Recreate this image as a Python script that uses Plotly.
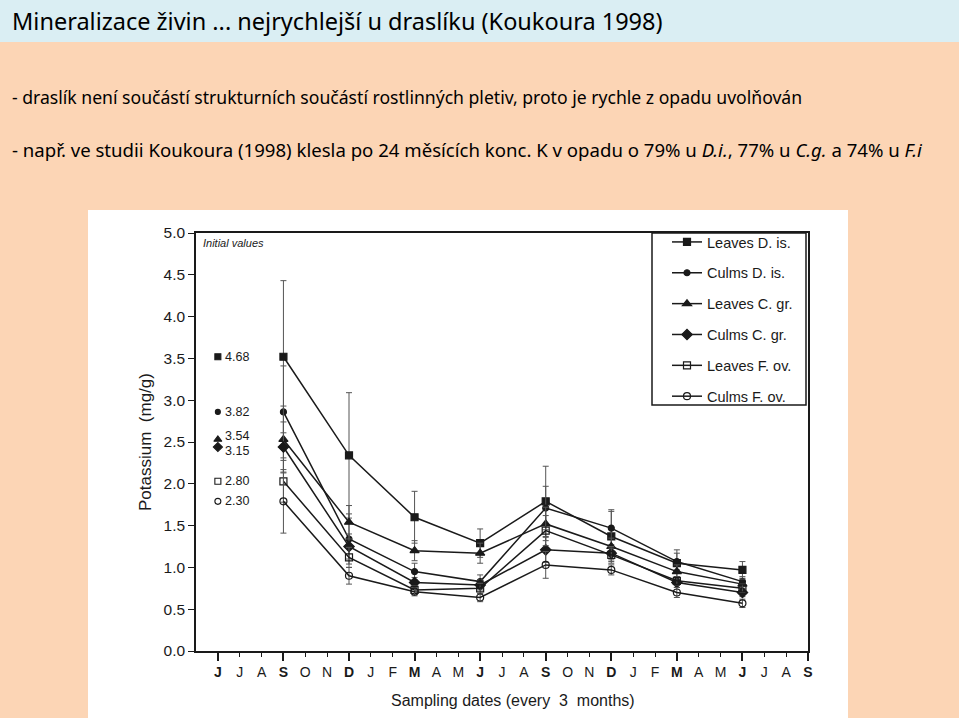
import plotly.graph_objects as go

W, H = 959, 718
# plot area in pixels
PL, PR, PT, PB = 196, 808, 233, 651

months = ["J", "J", "A", "S", "O", "N", "D", "J", "F", "M", "A", "M", "J", "J",
          "A", "S", "O", "N", "D", "J", "F", "M", "A", "M", "J", "J", "A", "S"]
bold_months = [0, 3, 6, 9, 12, 15, 18, 21, 24, 27]
sample_idx = [3, 6, 9, 12, 15, 18, 21, 24]

series_names = ["Leaves D. is.", "Culms D. is.", "Leaves C. gr.",
                "Culms C. gr.", "Leaves F. ov.", "Culms F. ov."]
leaves_di = [3.52, 2.34, 1.60, 1.29, 1.79, 1.37, 1.05, 0.97]
culms_di = [2.86, 1.34, 0.95, 0.83, 1.71, 1.47, 1.07, 0.83]
leaves_cg = [2.53, 1.54, 1.20, 1.17, 1.52, 1.25, 0.95, 0.80]
culms_cg = [2.44, 1.25, 0.82, 0.79, 1.21, 1.17, 0.82, 0.70]
leaves_fo = [2.03, 1.12, 0.73, 0.75, 1.44, 1.15, 0.84, 0.75]
culms_fo = [1.79, 0.90, 0.71, 0.64, 1.03, 0.97, 0.70, 0.57]
series_values = [leaves_di, culms_di, leaves_cg, culms_cg, leaves_fo, culms_fo]

err_leaves_di = [0.91, 0.75, 0.31, 0.17, 0.42, 0.32, 0.16, 0.10]
err_culms_di = [0.55, 0.30, 0.10, 0.08, 0.26, 0.20, 0.10, 0.06]
err_leaves_cg = [0.40, 0.20, 0.12, 0.12, 0.20, 0.10, 0.08, 0.06]
err_culms_cg = [0.30, 0.15, 0.06, 0.06, 0.15, 0.08, 0.06, 0.05]
err_leaves_fo = [0.25, 0.12, 0.05, 0.06, 0.18, 0.08, 0.05, 0.05]
err_culms_fo = [0.38, 0.10, 0.05, 0.05, 0.16, 0.06, 0.06, 0.05]
series_errors = [err_leaves_di, err_culms_di, err_leaves_cg, err_culms_cg,
                 err_leaves_fo, err_culms_fo]

initial_labels = ["4.68", "3.82", "3.54", "3.15", "2.80", "2.30"]
initial_label_shift = [0, 0, 3, -4, 0, 0]

symbols = ["square", "circle", "triangle-up", "diamond", "square-open", "circle-open"]
msizes = [7, 6, 8, 8, 7, 7]
y_ticks = [0.0, 0.5, 1.0, 1.5, 2.0, 2.5, 3.0, 3.5, 4.0, 4.5, 5.0]

title_text = "Mineralizace živin ... nejrychlejší u draslíku (Koukoura 1998)"
line1 = "- draslík není součástí strukturních součástí rostlinných pletiv, proto je rychle z opadu uvolňován"
line2 = ("- např. ve studii Koukoura (1998) klesla po 24 měsících konc. K v opadu o 79% u "
         "<i>D.i.</i>, 77% u <i>C.g.</i> a 74% u <i>F.i</i>")

INK = "#1a1a1a"
SLIDE_FONT = "Liberation Sans Narrow, Noto Sans, sans-serif"
CHART_FONT = "Liberation Sans, Arial, sans-serif"


def px_x(p):
    return (p - PL) / (PR - PL)


def px_y(p):
    return (PB - p) / (PB - PT)


fig = go.Figure()

for i, (name, vals, errs) in enumerate(zip(series_names, series_values, series_errors)):
    fig.add_trace(go.Scatter(
        x=sample_idx, y=vals, name=name, mode="lines+markers",
        legendgroup=name,
        line=dict(color=INK, width=1.5),
        marker=dict(symbol=symbols[i], size=msizes[i], color=INK,
                    line=dict(color=INK, width=1.2)),
        error_y=dict(type="data", array=errs, visible=True, color="#555555",
                     thickness=1, width=3),
    ))

# initial values markers (placed at first month, at the first sampled value)
for i, vals in enumerate(series_values):
    fig.add_trace(go.Scatter(
        x=[0], y=[vals[0]], mode="markers", showlegend=False, hoverinfo="skip",
        marker=dict(symbol=symbols[i], size=msizes[i] - 1, color=INK,
                    line=dict(color=INK, width=1.1)),
        cliponaxis=False,
    ))
    fig.add_annotation(x=0, y=vals[0], xref="x", yref="y", text=initial_labels[i],
                       showarrow=False, xanchor="left", yanchor="middle",
                       xshift=5, yshift=initial_label_shift[i],
                       font=dict(family=CHART_FONT, size=12.5, color=INK))

# overlay axis for long ticks at sampling months
fig.add_trace(go.Scatter(x=[None], y=[None], xaxis="x2", showlegend=False, hoverinfo="skip"))

tick_text = [f"<b>{m}</b>" if i in bold_months else m for i, m in enumerate(months)]

fig.update_layout(
    width=W, height=H,
    margin=dict(l=PL, r=W - PR, t=PT, b=H - PB, pad=0),
    paper_bgcolor="#FCD5B5",
    plot_bgcolor="white",
    showlegend=True,
    legend=dict(
        x=px_x(667), y=px_y(226), xanchor="left", yanchor="top",
        bgcolor="rgba(0,0,0,0)", borderwidth=0,
        font=dict(family=CHART_FONT, size=14.5, color=INK),
        tracegroupgap=9, itemwidth=30,
    ),
    xaxis=dict(
        range=[-1, 27], tickmode="array", tickvals=list(range(len(months))),
        ticktext=tick_text, ticks="outside", ticklen=4, tickwidth=1, tickcolor=INK,
        showline=True, linecolor=INK, linewidth=1.5, mirror=True,
        showgrid=False, zeroline=False,
        tickfont=dict(family=CHART_FONT, size=14, color=INK),
        ticklabelstandoff=3,
    ),
    xaxis2=dict(
        overlaying="x", range=[-1, 27], tickmode="array", tickvals=bold_months,
        ticks="outside", ticklen=9, tickwidth=1.5, tickcolor=INK,
        showticklabels=False, showgrid=False, zeroline=False, side="bottom",
        anchor="y",
    ),
    yaxis=dict(
        range=[0, 5], tickmode="array", tickvals=y_ticks,
        ticktext=[f"{v:.1f}" for v in y_ticks],
        ticks="outside", ticklen=6, tickwidth=1, tickcolor=INK,
        showline=True, linecolor=INK, linewidth=1.5, mirror=True,
        showgrid=False, zeroline=False,
        tickfont=dict(family=CHART_FONT, size=15.5, color=INK),
    ),
)

# slide background pieces
fig.add_shape(type="rect", xref="paper", yref="paper", layer="below",
              x0=px_x(0), x1=px_x(W), y0=px_y(42), y1=px_y(0),
              fillcolor="#DAEEF3", line=dict(width=0))
fig.add_shape(type="rect", xref="paper", yref="paper", layer="below",
              x0=px_x(88), x1=px_x(848), y0=px_y(H), y1=px_y(210),
              fillcolor="white", line=dict(width=0))
# legend frame
fig.add_shape(type="rect", xref="paper", yref="paper", layer="above",
              x0=px_x(652), x1=px_x(806), y0=px_y(405), y1=px_y(233),
              fillcolor="white", line=dict(color=INK, width=1.5))

# slide texts
fig.add_annotation(xref="paper", yref="paper", x=px_x(10), y=px_y(21),
                   xanchor="left", yanchor="middle", showarrow=False,
                   text=title_text, font=dict(family=SLIDE_FONT, size=23.5, color="black"))
fig.add_annotation(xref="paper", yref="paper", x=px_x(10), y=px_y(97),
                   xanchor="left", yanchor="middle", showarrow=False,
                   text=line1, font=dict(family=SLIDE_FONT, size=17.6, color="black"))
fig.add_annotation(xref="paper", yref="paper", x=px_x(10), y=px_y(149),
                   xanchor="left", yanchor="middle", showarrow=False,
                   text=line2, font=dict(family=SLIDE_FONT, size=18.6, color="black"))

# chart texts
fig.add_annotation(xref="paper", yref="paper", x=px_x(201), y=px_y(243),
                   xanchor="left", yanchor="middle", showarrow=False,
                   text="<i>Initial values</i>", font=dict(family=CHART_FONT, size=11, color=INK))
fig.add_annotation(xref="paper", yref="paper", x=px_x(145), y=px_y(442),
                   xanchor="center", yanchor="middle", showarrow=False, textangle=-90,
                   text="Potassium  (mg/g)", font=dict(family=CHART_FONT, size=17, color=INK))
fig.add_annotation(xref="paper", yref="paper", x=px_x(513), y=px_y(700),
                   xanchor="center", yanchor="middle", showarrow=False,
                   text="Sampling dates (every  3  months)",
                   font=dict(family=CHART_FONT, size=16, color=INK))

fig.write_html("out.html", post_script="document.body.style.margin='0';",
               config={"displayModeBar": False})
